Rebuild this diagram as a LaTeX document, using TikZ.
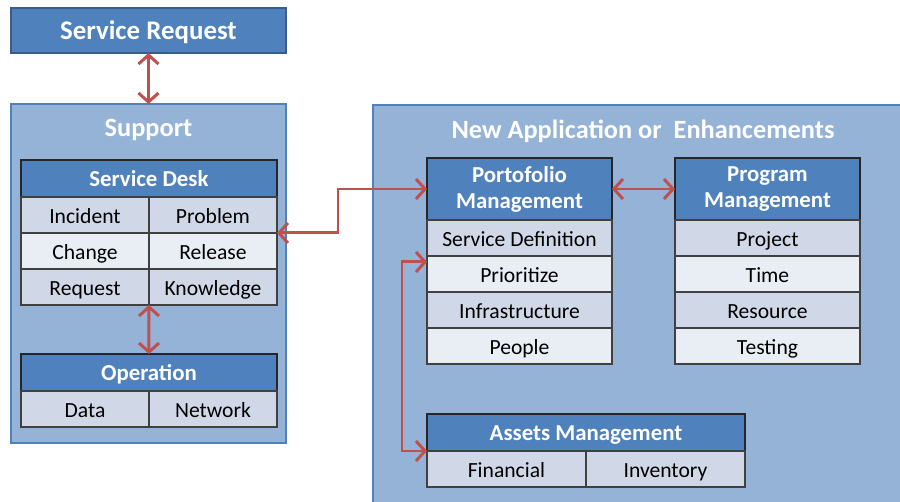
\documentclass[tikz,border=0pt]{standalone}
\usepackage{fontspec}
\setmainfont{Carlito}
\usetikzlibrary{positioning,arrows.meta}
\usepackage{xcolor}

\definecolor{hdrblue}{HTML}{4F81BD}
\definecolor{hdrline}{HTML}{385D8A}
\definecolor{panelblue}{HTML}{95B3D7}
\definecolor{rowdark}{HTML}{D0D8E8}
\definecolor{rowlight}{HTML}{E9EDF4}
\definecolor{linkred}{HTML}{C0504D}

\tikzset{
	panel/.style={draw=hdrblue, fill=panelblue, line width=1.2pt, anchor=north west, inner sep=0pt, outer sep=0pt},
	paneltitle/.style={text=white, font=\fontsize{15}{17}\selectfont\bfseries},
	hdr/.style={draw=black!85, fill=hdrblue, text=white, line width=0.9pt, anchor=north west,
		inner sep=0pt, outer sep=0pt, align=center, font=\fontsize{13}{14.8}\selectfont\bfseries},
	oneline/.style={text height=9.8pt, text depth=0.4pt},
	cell/.style={draw=black!75, line width=0.9pt, text=black, anchor=north west, inner sep=0pt, outer sep=0pt,
		minimum height=0.72cm, text height=11pt, text depth=1.2pt, font=\fontsize{12.3}{14}\selectfont},
	link/.style={draw=linkred, line width=1.7pt,
		{Straight Barb[length=1.8mm,width=4mm]}-{Straight Barb[length=1.8mm,width=4mm]}},
}

\begin{document}
\begin{tikzpicture}[x=0.02cm, y=-0.02cm]
	\useasboundingbox (0,0) rectangle (900,501);
	\clip (0,0) rectangle (900,501);

	% Top request
	\node[hdr, draw=hdrline, minimum width=5.5cm, minimum height=0.9cm, text height=11pt, text depth=1.3pt,
		font=\fontsize{15.3}{17}\selectfont\bfseries] (sr) at (11,8) {Service Request};

	% Panels
	\node[panel, minimum width=5.5cm, minimum height=6.78cm] (sup) at (11,104) {};
	\node[paneltitle] (suptitle) at (148.5,130) {Support};
	\node[panel, minimum width=11cm, minimum height=8.5cm] (nap) at (373,105) {};
	\node[paneltitle] (naptitle) at (643,131) {New Application or\ \ Enhancements};

	% Service desk
	\node[hdr, oneline, minimum width=5.12cm, minimum height=0.74cm] (sd) at (21,160) {Service Desk};
	\foreach \a/\b/\f [count=\i] in {Incident/Problem/rowdark, Change/Release/rowlight, Request/Knowledge/rowdark} {
		\node[cell, fill=\f, minimum width=2.56cm] (sdl\i) at ([yshift={-(\i-1)*0.72cm}]sd.south west) {\a};
		\node[cell, fill=\f, minimum width=2.56cm, right=0pt of sdl\i] (sdr\i) {\b};
	}

	% Operation
	\node[hdr, oneline, minimum width=5.12cm, minimum height=0.74cm] (op) at (21,354) {Operation};
	\node[cell, fill=rowdark, minimum width=2.56cm] (data) at (op.south west) {Data};
	\node[cell, fill=rowdark, minimum width=2.56cm, right=0pt of data] (net) {Network};

	% Portofolio and program
	\node[hdr, minimum width=3.7cm, minimum height=1.24cm] (pm) at (427,158) {Portofolio\\Management};
	\foreach \t/\f [count=\i] in {Service Definition/rowdark, Prioritize/rowlight, Infrastructure/rowdark, People/rowlight} {
		\node[cell, fill=\f, minimum width=3.7cm] (pm\i) at ([yshift={-(\i-1)*0.72cm}]pm.south west) {\t};
	}
	\node[hdr, minimum width=3.7cm, minimum height=1.24cm] (pg) at (675,158) {Program\\Management};
	\foreach \t/\f [count=\i] in {Project/rowdark, Time/rowlight, Resource/rowdark, Testing/rowlight} {
		\node[cell, fill=\f, minimum width=3.7cm] (pg\i) at ([yshift={-(\i-1)*0.72cm}]pg.south west) {\t};
	}

	% Assets
	\node[hdr, oneline, minimum width=6.36cm, minimum height=0.74cm] (am) at (427,414) {Assets Management};
	\node[cell, fill=rowdark, minimum width=3.18cm] (fin) at (am.south west) {Financial};
	\node[cell, fill=rowdark, minimum width=3.18cm, right=0pt of fin] (inv) {Inventory};

	% Links
	\draw[link] (sr) -- (sup);
	\draw[link] (sdl3.south east) -- (op.north);
	\draw[link] (pm.west) -- ++(-89,0) |- (sdr2.north east);
	\draw[link] (pm) -- (pg);
	\draw[link] ([yshift=0.24cm]pm2.west) -- ++(-25,0) |- (fin.north west);
\end{tikzpicture}
\end{document}
